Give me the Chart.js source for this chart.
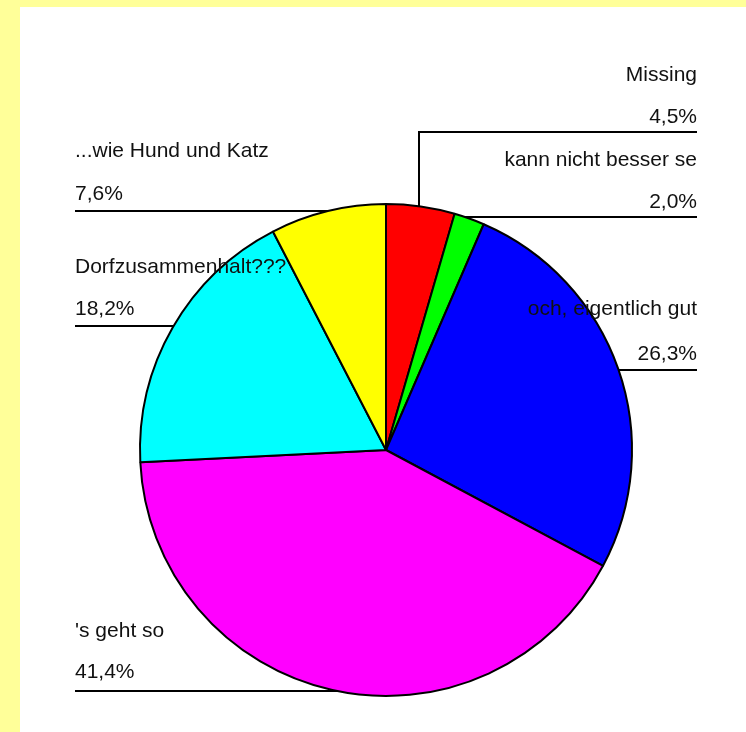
<!DOCTYPE html>
<html>
<head>
<meta charset="utf-8">
<script src="https://cdn.jsdelivr.net/npm/chart.js@4"></script>
<style>
  html, body { margin: 0; padding: 0; }
  body { width: 746px; height: 732px; background: #ffff99; position: relative; overflow: hidden; }
  #panel { position: absolute; left: 20px; top: 7px; width: 726px; height: 725px; background: #ffffff; }
  #myChart { position: absolute; left: 0; top: 0; }
</style>
</head>
<body>
<div id="panel"></div>
<canvas id="myChart" width="746" height="732"></canvas>
<script>
const categories = ['Missing', 'kann nicht besser se', 'och, eigentlich gut', "'s geht so", 'Dorfzusammenhalt???', '...wie Hund und Katz'];
const values = [4.5, 2.0, 26.3, 41.4, 18.2, 7.6];
const colors = ['#ff0000', '#00ff00', '#0000ff', '#ff00ff', '#00ffff', '#ffff00'];

// where each label sits: text side, baselines of name and percent, y of the leader line
const labelLayout = [
    {side: 'right', nameY: 81, pctY: 123, lineY: 132, elbowX: 419},
    {side: 'right', nameY: 166, pctY: 208, lineY: 217},
    {side: 'right', nameY: 315, pctY: 360, lineY: 370},
    {side: 'left', nameY: 637, pctY: 678, lineY: 691},
    {side: 'left', nameY: 273, pctY: 315, lineY: 326},
    {side: 'left', nameY: 157, pctY: 200, lineY: 211}
];
const leftX = 75;
const rightX = 697;

function pctText(v) {
    return v.toFixed(1).replace('.', ',') + '%';
}

const pieLabels = {
    id: 'pieLabels',
    beforeDatasetsDraw(chart) {
        const ctx = chart.ctx;
        const arc = chart.getDatasetMeta(0).data[0];
        const cx = arc.x, cy = arc.y, r = arc.outerRadius;
        ctx.save();
        ctx.strokeStyle = '#000';
        ctx.lineWidth = 2;
        labelLayout.forEach(l => {
            ctx.beginPath();
            if (l.elbowX !== undefined) {
                const dx = l.elbowX - cx;
                const edgeY = cy - Math.sqrt(r * r - dx * dx);
                ctx.moveTo(rightX, l.lineY);
                ctx.lineTo(l.elbowX, l.lineY);
                ctx.lineTo(l.elbowX, edgeY + 2);
            } else {
                const dy = l.lineY - cy;
                const half = Math.sqrt(Math.max(r * r - dy * dy, 0));
                if (l.side === 'right') {
                    ctx.moveTo(rightX, l.lineY);
                    ctx.lineTo(cx + half - 2, l.lineY);
                } else {
                    ctx.moveTo(leftX, l.lineY);
                    ctx.lineTo(cx - half + 2, l.lineY);
                }
            }
            ctx.stroke();
        });
        ctx.restore();
    },
    afterDatasetsDraw(chart) {
        const ctx = chart.ctx;
        ctx.save();
        ctx.font = '21px "Liberation Sans", Arial, sans-serif';
        ctx.fillStyle = '#111';
        ctx.textBaseline = 'alphabetic';
        labelLayout.forEach((l, i) => {
            const x = l.side === 'right' ? rightX : leftX;
            ctx.textAlign = l.side === 'right' ? 'right' : 'left';
            ctx.fillText(categories[i], x, l.nameY);
            ctx.fillText(pctText(values[i]), x, l.pctY);
        });
        ctx.restore();
    }
};

new Chart(document.getElementById('myChart').getContext('2d'), {
    type: 'pie',
    data: {
        labels: categories,
        datasets: [{
            data: values,
            backgroundColor: colors,
            borderColor: '#000',
            borderWidth: 2
        }]
    },
    options: {
        responsive: false,
        animation: false,
        layout: {padding: {left: 139, right: 113, top: 203, bottom: 35}},
        plugins: {
            legend: {display: false},
            tooltip: {enabled: false}
        }
    },
    plugins: [pieLabels]
});
</script>
</body>
</html>
